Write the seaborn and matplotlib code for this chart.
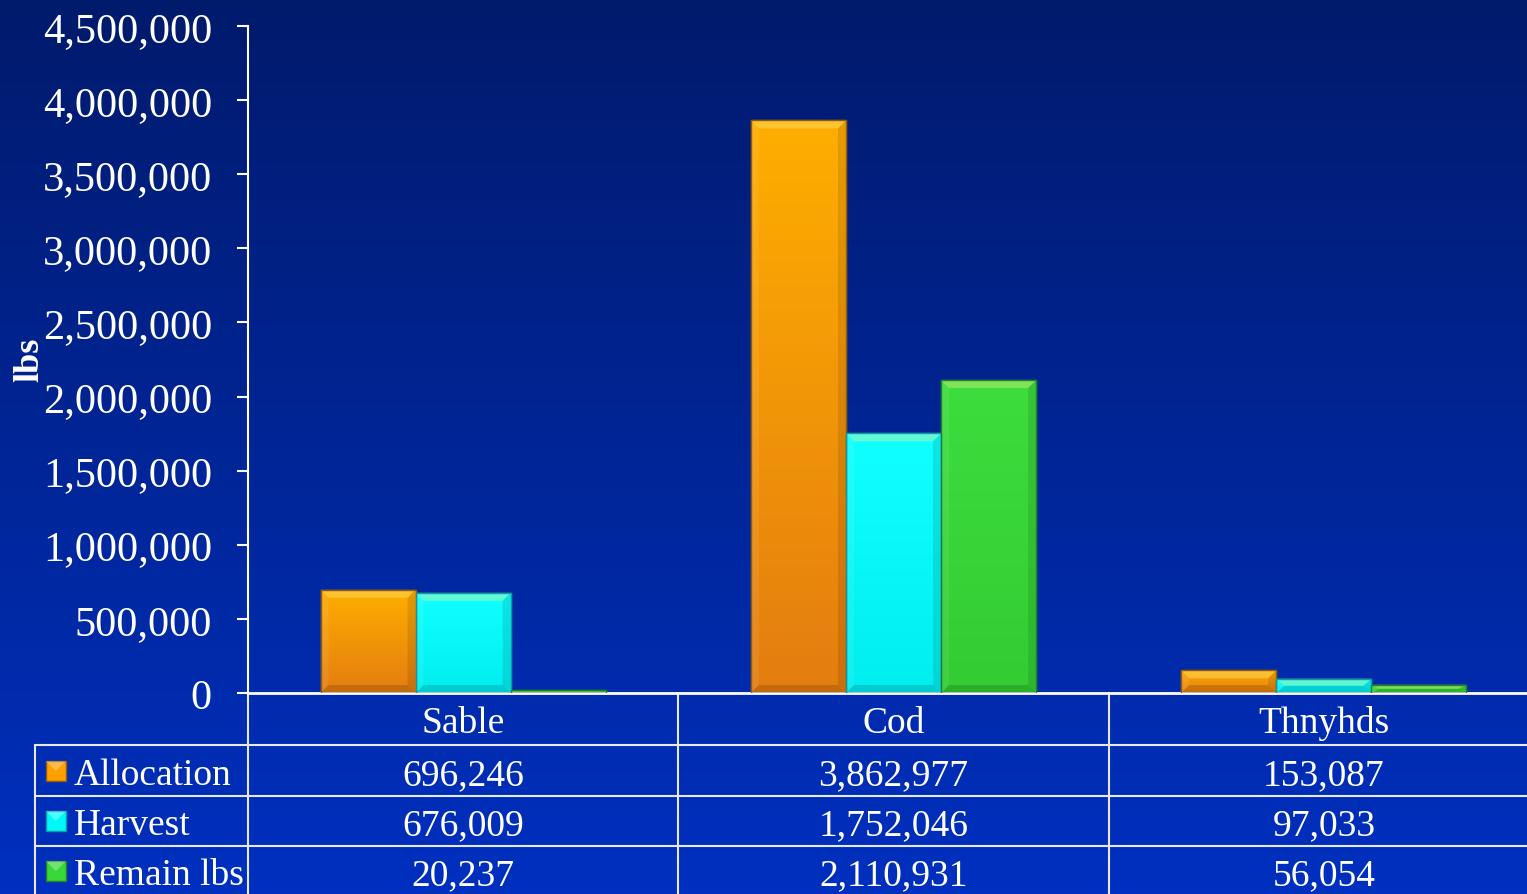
import matplotlib
matplotlib.use("Agg")
import matplotlib.pyplot as plt
import matplotlib.transforms as mtransforms
from matplotlib.colors import LinearSegmentedColormap
from matplotlib.patches import Polygon, Rectangle
from matplotlib.ticker import FuncFormatter
import numpy as np
import pandas as pd
import seaborn as sns

species = ["Sable", "Cod", "Thnyhds"]
series = ["Allocation", "Harvest", "Remain lbs"]
allocation = [696246, 3862977, 153087]
harvest = [676009, 1752046, 97033]
remain = [20237, 2110931, 56054]
y_ticks = [0, 500000, 1000000, 1500000, 2000000, 2500000, 3000000, 3500000, 4000000, 4500000]

base_colors = ["#ff9f00", "#00f8f8", "#38d838"]
top_colors = ["#ffae00", "#10ffff", "#3ddd3d"]
bottom_colors = ["#e37d10", "#00eef0", "#33cc33"]
edge_colors = ["#8c5a10", "#0a9aa8", "#1f7f2a"]

W, H = 1527, 895
SERIF = ["Liberation Serif", "DejaVu Serif"]

values = {"Allocation": allocation, "Harvest": harvest, "Remain lbs": remain}
rows = []
for s in series:
    for sp, v in zip(species, values[s]):
        rows.append({"species": sp, "series": s, "lbs": v})
df = pd.DataFrame(rows)

sns.set_style("white")
plt.rcParams["font.family"] = SERIF

fig = plt.figure(figsize=(W / 100, H / 100), dpi=100)

# background gradient
bg = fig.add_axes([0, 0, 1, 1], zorder=-10)
grad = np.linspace(0, 1, 256).reshape(-1, 1)
bg_cmap = LinearSegmentedColormap.from_list("bg", ["#001a6c", "#0030c0"])
bg.imshow(grad, aspect="auto", cmap=bg_cmap, extent=(0, 1, 0, 1), origin="upper")
bg.set_axis_off()

ax = fig.add_axes([248 / W, (H - 694) / H, (W - 248) / W, 667 / H])
ax.set_facecolor("none")

sns.barplot(data=df, x="species", y="lbs", hue="series", hue_order=series,
            order=species, palette=base_colors, width=0.663, gap=0,
            saturation=1, legend=False, ax=ax)

xlim = (-0.5, 2.5 - 12 / 430)
ylim = (0, 4500000)

# gradient + bevel on every bar
bx = 8 / 430
by = 8 * 4500000 / 667
bars = list(ax.patches)
for i, p in enumerate(bars):
    k = i // 3
    x0, y0 = p.get_x(), p.get_y()
    w, h = p.get_width(), p.get_height()
    cm = LinearSegmentedColormap.from_list("b%d" % i, [top_colors[k], bottom_colors[k]])
    im = ax.imshow(grad, aspect="auto", cmap=cm, extent=(x0, x0 + w, y0, y0 + h),
                   origin="upper", zorder=2)
    im.set_clip_path(p)
    p.set_edgecolor(edge_colors[k])
    p.set_linewidth(1.0)
    dy = min(by, h / 2)
    dx = min(bx, w / 2)
    x1, y1 = x0 + w, y0 + h
    top = Polygon([(x0, y1), (x1, y1), (x1 - dx, y1 - dy), (x0 + dx, y1 - dy)],
                  closed=True, facecolor="#fff38a", alpha=0.35, lw=0, zorder=3)
    left = Polygon([(x0, y0), (x0, y1), (x0 + dx, y1 - dy), (x0 + dx, y0 + dy)],
                   closed=True, facecolor="white", alpha=0.08, lw=0, zorder=3)
    right = Polygon([(x1, y0), (x1, y1), (x1 - dx, y1 - dy), (x1 - dx, y0 + dy)],
                    closed=True, facecolor="black", alpha=0.10, lw=0, zorder=3)
    bot = Polygon([(x0, y0), (x1, y0), (x1 - dx, y0 + dy), (x0 + dx, y0 + dy)],
                  closed=True, facecolor="black", alpha=0.14, lw=0, zorder=3)
    for poly in (top, left, right, bot):
        ax.add_patch(poly)
    outline = Rectangle((x0, y0), w, h, fill=False, edgecolor=edge_colors[k],
                        lw=1.0, zorder=4)
    ax.add_patch(outline)

ax.set_xlim(*xlim)
ax.set_ylim(*ylim)

ax.set_yticks(y_ticks)
ax.yaxis.set_major_formatter(FuncFormatter(lambda v, pos: f"{int(v):,}"))
ax.tick_params(axis="y", left=True, colors="white", labelcolor="white",
               labelsize=30.5, length=8, width=1.5, pad=18, direction="out")
ax.tick_params(axis="x", bottom=False, labelbottom=False)
ax.set_xlabel("")
ax.set_ylabel("")
for side in ("top", "right"):
    ax.spines[side].set_visible(False)
ax.spines["left"].set_color("white")
ax.spines["left"].set_linewidth(1.5)
ax.spines["bottom"].set_color("white")
ax.spines["bottom"].set_linewidth(2)
for lab in ax.get_yticklabels():
    lab.set_family(SERIF)

fig.text(30 / W, 1 - 360 / H, "lbs", rotation=90, ha="center", va="center",
         color="white", fontsize=26, fontweight="bold", family=SERIF)

# data table under the chart
T = mtransforms.blended_transform_factory(ax.transData, fig.transFigure)


def fy(px):
    return 1 - px / H


line_kw = dict(color="#e6e8f2", lw=1.5, transform=T, clip_on=False)
x_left = -0.5 - (248 - 35) / 430
for ypx in (746, 797, 847):
    ax.plot([x_left, 3.0], [fy(ypx), fy(ypx)], **line_kw)
ax.plot([x_left, x_left], [fy(746), fy(900)], **line_kw)
for xv in (-0.5, 0.5, 1.5):
    ax.plot([xv, xv], [fy(694), fy(900)], **line_kw)

text_kw = dict(color="white", fontsize=27, family=SERIF, transform=T, va="baseline")
for j, sp in enumerate(species):
    ax.text(j, fy(733), sp, ha="center", **text_kw)

baselines = [785, 835, 885]
centers = [772, 822, 872]
label_x = -0.5 - (248 - 74) / 430
sw_x = -0.5 - (248 - 46) / 430
sw_w = 20 / 430
for k, s in enumerate(series):
    ax.text(label_x, fy(baselines[k]), s, ha="left", **text_kw)
    sw = Rectangle((sw_x, fy(centers[k] + 10)), sw_w, 20 / H, transform=T,
                   facecolor=base_colors[k], edgecolor=edge_colors[k], lw=1,
                   clip_on=False)
    ax.add_patch(sw)
    tri = Polygon([(sw_x, fy(centers[k] - 10)), (sw_x + sw_w, fy(centers[k] - 10)),
                   (sw_x + sw_w / 2, fy(centers[k]))], closed=True, transform=T,
                  facecolor="white", alpha=0.3, lw=0, clip_on=False)
    ax.add_patch(tri)
    for j, v in enumerate(values[s]):
        ax.text(j, fy(baselines[k]), f"{v:,}", ha="center", **text_kw)

fig.savefig("out.png", dpi=100)
